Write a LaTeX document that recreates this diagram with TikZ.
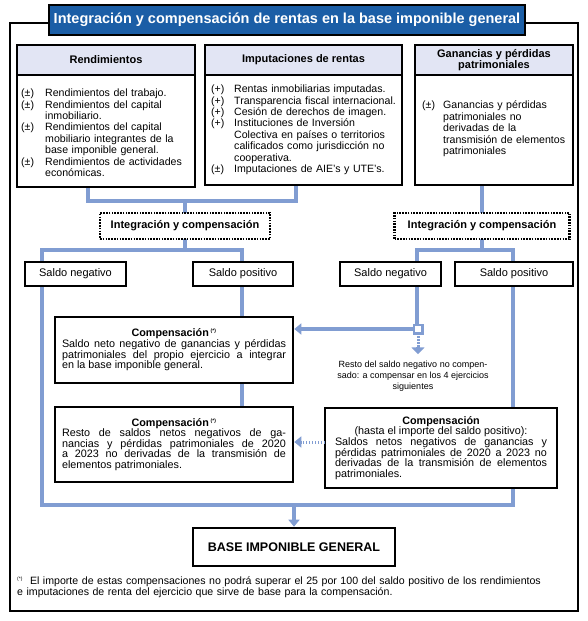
\documentclass[tikz,border=0pt]{standalone}
\usepackage{fontspec}
\setmainfont{Liberation Sans}
\usetikzlibrary{arrows.meta,calc}
\definecolor{titleblue}{HTML}{1B5EA6}
\definecolor{headfill}{HTML}{E2E5F4}
\definecolor{connblue}{HTML}{819DD2}
\newcommand{\fnmark}{\textsuperscript{\fontsize{5}{5}\selectfont(*)}}
\newcommand{\litem}[3]{\par\noindent\hangindent=#1\hangafter=1\makebox[#1][l]{#2}#3\par}
\pgfdeclarelayer{bg}
\pgfsetlayers{bg,main}
\begin{document}
\begin{tikzpicture}[x=1pt,y=-1pt,
  outerframe/.style={draw=black,line width=2.6pt},
  titlebox/.style={draw=black,line width=1.2pt,fill=titleblue,text=white,inner sep=0pt,outer sep=0pt,font=\fontsize{14.5}{16}\selectfont\bfseries},
  hdr/.style={draw=black,line width=2.6pt,fill=headfill,inner sep=0pt,outer sep=0pt,align=center,font=\fontsize{11}{9.5}\selectfont\bfseries},
  bodybox/.style={draw=black,line width=2.6pt,fill=white,inner sep=0pt,outer sep=0pt},
  bodytext/.style={anchor=west,inner sep=0pt,text width=#1,align=left,font=\fontsize{10.6}{11.4}\selectfont},
  dotbox/.style={draw=black,line width=2.2pt,dash pattern=on 1.6pt off 1.2pt,fill=white,inner sep=0pt,outer sep=0pt,font=\fontsize{11}{13}\selectfont\bfseries},
  sbox/.style={draw=black,line width=2.6pt,fill=white,inner sep=0pt,outer sep=0pt,minimum height=24pt,font=\fontsize{11}{13}\selectfont},
  cbox/.style={draw=black,line width=2.6pt,fill=white,inner sep=0pt,outer sep=0pt,align=justify,font=\fontsize{10.8}{10.6}\selectfont},
  basebox/.style={draw=black,line width=2.6pt,fill=white,inner sep=0pt,outer sep=0pt,minimum width=202pt,minimum height=38pt,font=\fontsize{12.5}{14}\selectfont\bfseries},
  conn/.style={draw=connblue,line width=3.5pt},
  connarrow/.style={draw=connblue,line width=3.5pt,-{Triangle[width=11pt,length=7pt]}},
  dotconn/.style={draw=connblue,line width=3pt,dash pattern=on 1.5pt off 1.5pt},
  sqbox/.style={draw=connblue,line width=2.5pt,fill=white,inner sep=0pt,outer sep=0pt,minimum size=8.5pt},
  smalltext/.style={align=center,inner sep=0pt,font=\fontsize{9}{10.8}\selectfont},
  foottext/.style={anchor=north west,inner sep=0pt,text width=570pt,align=left,font=\fontsize{10.6}{11.2}\selectfont}
]
\useasboundingbox (0,0) rectangle (588,621);

% outer frame and title
\draw[outerframe] (10,23) rectangle (578,611);
\node[titlebox,minimum width=476pt,minimum height=30pt] (title) at (287,20) {Integración y compensación de rentas en la base imponible general};

% top boxes
\node[bodybox,minimum width=178pt,minimum height=112pt] (rbody) at (106,131) {};
\node[hdr,minimum width=178pt,minimum height=30pt] (rhead) at (106,60) {Rendimientos};
\node[bodytext=175pt] (rtext) at (21,131) {%
\litem{24pt}{(±)}{Rendimientos del trabajo.}%
\litem{24pt}{(±)}{Rendimientos del capital\newline inmobiliario.}%
\litem{24pt}{(±)}{Rendimientos del capital\newline mobiliario integrantes de la\newline base imponible general.}%
\litem{24pt}{(±)}{Rendimientos de actividades\newline económicas.}};

\node[bodybox,minimum width=197pt,minimum height=110pt] (ibody) at (303.5,130) {};
\node[hdr,minimum width=197pt,minimum height=30pt] (ihead) at (303.5,60) {Imputaciones de rentas};
\node[bodytext=195pt] (itext) at (211,128) {%
\litem{23pt}{(+)}{Rentas inmobiliarias imputadas.}%
\litem{23pt}{(+)}{Transparencia fiscal internacional.}%
\litem{23pt}{(+)}{Cesión de derechos de imagen.}%
\litem{23pt}{(+)}{Instituciones de Inversión\newline Colectiva en países o territorios\newline calificados como jurisdicción no\newline cooperativa.}%
\litem{23pt}{(±)}{Imputaciones de AIE's y UTE's.}};

\node[bodybox,minimum width=158pt,minimum height=110pt] (gbody) at (494,130) {};
\node[hdr,minimum width=158pt,minimum height=30pt] (ghead) at (494,60) {Ganancias y pérdidas\\patrimoniales};
\node[bodytext=150pt] (gtext) at (422,127) {%
\litem{21pt}{(±)}{Ganancias y pérdidas\newline patrimoniales no\newline derivadas de la\newline transmisión de elementos\newline patrimoniales}};

% integration boxes
\node[dotbox,minimum width=170pt,minimum height=26pt] (dL) at (185,226) {Integración y compensación};
\node[dotbox,minimum width=175pt,minimum height=26pt] (dR) at (482,226) {Integración y compensación};

% saldo boxes
\node[sbox,minimum width=101pt] (lneg) at (75.5,274) {Saldo negativo};
\node[sbox,minimum width=100pt] (lpos) at (243,274) {Saldo positivo};
\node[sbox,minimum width=101pt] (rneg) at (390.5,274) {Saldo negativo};
\node[sbox,minimum width=118pt] (rpos) at (514,274) {Saldo positivo};

% compensation boxes
\node[cbox,minimum width=238pt,minimum height=66pt,text width=224pt] (c1) at (174,350) {%
{\centering\bfseries Compensación\,\fnmark\par}
Saldo neto negativo de ganancias y pérdidas\linebreak patrimoniales del propio ejercicio a integrar\linebreak en la base imponible general.};
\node[cbox,minimum width=238pt,minimum height=75pt,text width=224pt] (c2) at (174,444.5) {%
{\centering\bfseries Compensación\,\fnmark\par}
Resto de saldos netos negativos de ga-\linebreak nancias y pérdidas patrimoniales de 2020\linebreak a 2023 no derivadas de la transmisión de\linebreak elementos patrimoniales.};
\node[cbox,minimum width=232pt,minimum height=80pt,text width=212pt] (c3) at (441,448) {%
{\centering\bfseries Compensación\par}
{\centering (hasta el importe del saldo positivo):\par}
Saldos netos negativos de ganancias y\linebreak pérdidas patrimoniales de 2020 a 2023 no\linebreak derivadas de la transmisión de elementos\linebreak patrimoniales.};

% base box
\node[basebox] (base) at (294,547) {BASE IMPONIBLE GENERAL};

% square junction and note
\node[sqbox] (sq) at (418,329) {};
\node[smalltext] (note) at (413,376) {Resto del saldo negativo no compen-\\sado: a compensar en los 4 ejercicios\\siguientes};

% footnote
\node[foottext] (foot) at (17,576) {\fnmark\ \ El importe de estas compensaciones no podrá superar el 25 por 100 del saldo positivo de los rendimientos\newline e imputaciones de renta del ejercicio que sirve de base para la compensación.};

% junction coordinates
\coordinate (jR) at (88,201);
\coordinate (jI) at (296,201);
\coordinate (hL1) at (42,250);
\coordinate (hL2) at (242,250);
\coordinate (hR1) at (417,250);
\coordinate (hR2) at (513,250);
\coordinate (bL) at (42,505);
\coordinate (bR) at (513,505);

\begin{pgfonlayer}{bg}
\draw[conn] (rbody.south -| jR) -- (jR) -- (jI) -- (ibody.south -| jI);
\draw[conn] (dL.north |- jR) -- (dL.north);
\draw[conn] (gbody.south -| dR.north) -- (dR.north);
\draw[conn] (dL.south) -- (dL.south |- hL1);
\draw[conn] (lneg.north -| hL1) -- (hL1) -- (hL2) -- (lpos.north -| hL2);
\draw[conn] (dR.south) -- (dR.south |- hR1);
\draw[conn] (rneg.north -| hR1) -- (hR1) -- (hR2) -- (rpos.north -| hR2);
\draw[conn] (lneg.south -| bL) -- (bL) -- (bR) -- (c3.south -| bR);
\draw[conn] (lpos.south -| hL2) -- (c1.north -| hL2);
\draw[conn] (c1.south -| hL2) -- (c2.north -| hL2);
\draw[conn] (rpos.south -| hR2) -- (c3.north -| hR2);
\draw[conn] (rneg.south -| hR1) -- (sq.north -| hR1);
\end{pgfonlayer}

\draw[connarrow,shorten >=1.3pt] (sq.west) -- (c1.east |- sq.west);
\draw[dotconn] (sq.south) -- ($(sq.south)+(0,14)$) coordinate (dtip);
\draw[connarrow,-{Triangle[width=13pt,length=7pt]}] ($(dtip)+(0,-0.5)$) -- ($(dtip)+(0,7)$);
\draw[dotconn,-{Triangle[width=11pt,length=7pt]},shorten >=1.3pt] ($(c3.west)+(0,-6)$) -- ($(c2.east |- c3.west)+(0,-6)$);
\draw[connarrow,shorten >=1.3pt] (base.north |- bL) -- (base.north);
\end{tikzpicture}
\end{document}
